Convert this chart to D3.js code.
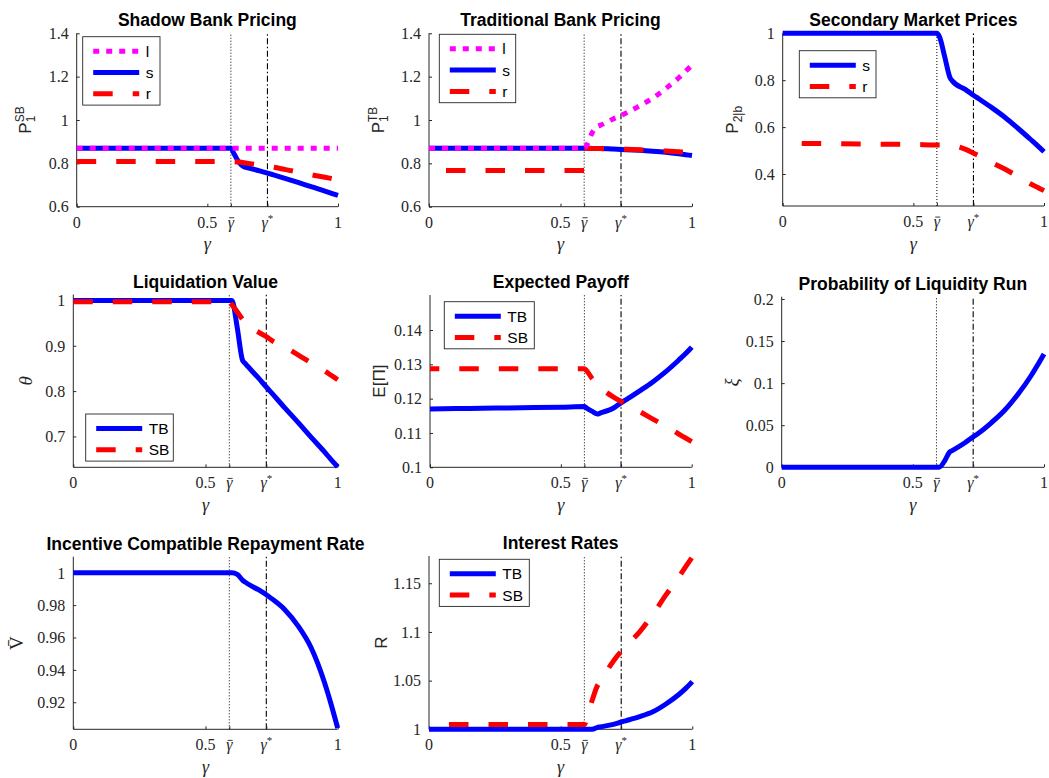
<!DOCTYPE html>
<html>
<head>
<meta charset="utf-8">
<script src="https://cdn.jsdelivr.net/npm/d3@7"></script>
<style>
  body { margin: 0; background: #fff; }
  svg { display: block; }
</style>
</head>
<body>
<svg id="fig" width="1049" height="778"></svg>
<script>
// shared gamma grid
var gamma = [0, 0.1, 0.2, 0.3, 0.4, 0.5, 0.59, 0.6, 0.62, 0.64, 0.65, 0.7, 0.73, 0.75, 0.8, 0.85, 0.9, 0.95, 0.975, 1];
var gammaBar = 0.59, gammaStar = 0.73;
var xTickVals = [0, 0.5, gammaBar, gammaStar, 1];
var xTickLabels = ['0', '0.5', 'bar', 'star', '1'];

// shadow bank pricing
var sbL = [0.87, 0.87, 0.87, 0.87, 0.87, 0.87, 0.87, 0.87, 0.87, 0.87, 0.87, 0.87, 0.87, 0.87, 0.87, 0.87, 0.87, 0.87, 0.87, 0.87];
var sbS = [0.87, 0.87, 0.87, 0.87, 0.87, 0.87, 0.87, 0.849, 0.806, 0.784, 0.781, 0.765, 0.755, 0.748, 0.73, 0.711, 0.691, 0.672, 0.662, 0.652];
var sbR = [0.808, 0.808, 0.808, 0.808, 0.808, 0.808, 0.808, 0.808, 0.806, 0.803, 0.801, 0.792, 0.787, 0.783, 0.771, 0.759, 0.747, 0.736, 0.73, 0.724];
// traditional bank pricing
var tbL = [0.87, 0.87, 0.87, 0.87, 0.87, 0.87, 0.87, 0.885, 0.94, 0.97, 0.975, 1.005, 1.021, 1.032, 1.065, 1.1, 1.145, 1.195, 1.224, 1.253];
var tbS = [0.87, 0.87, 0.87, 0.87, 0.87, 0.87, 0.87, 0.87, 0.869, 0.868, 0.868, 0.866, 0.864, 0.863, 0.86, 0.856, 0.851, 0.844, 0.84, 0.836];
var tbR = [0.767, 0.767, 0.767, 0.767, 0.767, 0.767, 0.767, 0.868, 0.868, 0.868, 0.868, 0.867, 0.866, 0.865, 0.863, 0.86, 0.857, 0.853, 0.851, 0.848];
// secondary market prices
var smS = [1, 1, 1, 1, 1, 1, 1, 0.985, 0.9, 0.812, 0.796, 0.76, 0.736, 0.721, 0.683, 0.642, 0.595, 0.546, 0.521, 0.495];
var smR = [0.531, 0.53, 0.529, 0.528, 0.527, 0.526, 0.524, 0.524, 0.523, 0.522, 0.521, 0.505, 0.489, 0.478, 0.449, 0.421, 0.39, 0.357, 0.343, 0.329];
// liquidation value
var lvTB = [1, 1, 1, 1, 1, 1, 1, 1, 0.94, 0.868, 0.861, 0.829, 0.809, 0.796, 0.763, 0.731, 0.698, 0.666, 0.649, 0.633];
var lvSB = [0.997, 0.997, 0.997, 0.997, 0.997, 0.997, 0.997, 0.99, 0.975, 0.958, 0.95, 0.93, 0.92, 0.912, 0.897, 0.88, 0.862, 0.845, 0.835, 0.825];
// expected payoff
var epTB = [0.117, 0.1171, 0.1172, 0.1173, 0.1174, 0.1175, 0.1177, 0.1172, 0.1163, 0.1155, 0.1158, 0.1172, 0.1188, 0.1197, 0.1222, 0.1248, 0.1278, 0.1312, 0.133, 0.135];
var epSB = [0.1287, 0.1287, 0.1287, 0.1287, 0.1287, 0.1287, 0.1287, 0.128, 0.1258, 0.1242, 0.1234, 0.1205, 0.1192, 0.1184, 0.1163, 0.1141, 0.112, 0.1097, 0.1086, 0.1075];
// probability of liquidity run
var xi = [0, 0, 0, 0, 0, 0, 0, 0, 0.007, 0.018, 0.0198, 0.0295, 0.0362, 0.0405, 0.0532, 0.0678, 0.0865, 0.1085, 0.1212, 0.1347];
// incentive compatible repayment rate
var vBar = [1, 1, 1, 1, 1, 1, 1, 1, 0.999, 0.9955, 0.9942, 0.9895, 0.9864, 0.984, 0.9772, 0.9672, 0.9535, 0.9322, 0.9188, 0.904];
// interest rates
var irTB = [1, 1, 1, 1, 1, 1, 1, 1, 1, 1.002, 1.0025, 1.005, 1.0075, 1.009, 1.013, 1.018, 1.026, 1.036, 1.042, 1.049];
var irSB = [1.005, 1.005, 1.005, 1.005, 1.005, 1.005, 1.005, 1.012, 1.03, 1.045, 1.049, 1.07, 1.08, 1.086, 1.1, 1.118, 1.138, 1.157, 1.167, 1.177];

var ink = '#262626';
var serif = '"Liberation Serif", "Times New Roman", serif';
var sans = '"Liberation Sans", Arial, sans-serif';
var tickSize = 16;
var looks = {
  blue:    { color: '#0000ff', dash: null, w: 5 },
  red:     { color: '#ff0000', dash: '19.5,20', w: 5 },
  magenta: { color: '#ff00ff', dash: '6,7', w: 5 }
};

var panels = [
  { title: 'Shadow Bank Pricing', box: [76.7, 33.3, 338, 206.7], ydom: [0.6, 1.4], yticks: [0.6, 0.8, 1, 1.2, 1.4],
    label: { parts: [['P'], ['SB', 'sup'], ['1', 'sub']], cx: 25 },
    series: [{ key: 's', v: sbS, look: 'blue' }, { key: 'r', v: sbR, look: 'red', off: 0 }, { key: 'l', v: sbL, look: 'magenta' }],
    legend: { x: 82.7, y: 36.7, w: 77.3, order: ['l', 's', 'r'] } },
  { title: 'Traditional Bank Pricing', box: [429, 33.3, 692, 206.7], ydom: [0.6, 1.4], yticks: [0.6, 0.8, 1, 1.2, 1.4],
    label: { parts: [['P'], ['TB', 'sup'], ['1', 'sub']], cx: 378 },
    series: [{ key: 's', v: tbS, look: 'blue' }, { key: 'r', v: tbR, look: 'red', off: 22.5 }, { key: 'l', v: tbL, look: 'magenta' }],
    legend: { x: 439.3, y: 34.3, w: 76.4, order: ['l', 's', 'r'] } },
  { title: 'Secondary Market Prices', box: [782.7, 33.3, 1044, 206], ydom: [0.2635, 1], yticks: [0.4, 0.6, 0.8, 1],
    label: { parts: [['P'], ['2|b', 'sub']], cx: 734 },
    series: [{ key: 's', v: smS, look: 'blue' }, { key: 'r', v: smR, look: 'red', off: 20.5 }],
    legend: { x: 799.3, y: 50.7, w: 76.7, order: ['s', 'r'] } },
  { title: 'Liquidation Value', box: [73.3, 294.5, 337.7, 467.3], ydom: [0.632, 1.013], yticks: [0.7, 0.8, 0.9, 1],
    label: { parts: [['θ']], cx: 25.5, font: serif, italic: true },
    series: [{ key: 'TB', v: lvTB, look: 'blue' }, { key: 'SB', v: lvSB, look: 'red', off: 0 }],
    legend: { x: 85.7, y: 414, w: 87.6, order: ['TB', 'SB'] } },
  { title: 'Expected Payoff', box: [430, 295, 691.7, 467.3], ydom: [0.1, 0.1502], yticks: [0.1, 0.11, 0.12, 0.13, 0.14],
    label: { parts: [['E[Π]']], cx: 379 },
    series: [{ key: 'TB', v: epTB, look: 'blue' }, { key: 'SB', v: epSB, look: 'red', off: 10.2 }],
    legend: { x: 444.3, y: 301.7, w: 90, order: ['TB', 'SB'] } },
  { title: 'Probability of Liquidity Run', box: [781.7, 296.7, 1044, 467.3], ydom: [0, 0.2027], yticks: [0, 0.05, 0.1, 0.15, 0.2],
    label: { parts: [['ξ']], cx: 731.5, font: serif, italic: true },
    series: [{ key: 'xi', v: xi, look: 'blue' }],
    legend: null },
  { title: 'Incentive Compatible Repayment Rate', box: [73.3, 556.7, 337.7, 729.3], ydom: [0.9033, 1.0099], yticks: [0.92, 0.94, 0.96, 0.98, 1],
    label: { parts: [['V\u0304']], cx: 16.7, font: serif },
    series: [{ key: 'v', v: vBar, look: 'blue' }],
    legend: null },
  { title: 'Interest Rates', box: [429, 556, 692.3, 729.3], ydom: [1, 1.178], yticks: [1, 1.05, 1.1, 1.15],
    label: { parts: [['R']], cx: 381.7 },
    series: [{ key: 'TB', v: irTB, look: 'blue' }, { key: 'SB', v: irSB, look: 'red', off: 19.5 }],
    legend: { x: 439.3, y: 559.3, w: 90, order: ['TB', 'SB'] } }
];

var svg = d3.select('#fig');
var fmt = d3.format('~g');

panels.forEach(function(p) {
  var g = svg.append('g');
  var x = d3.scaleLinear().domain([0, 1]).range([p.box[0], p.box[2]]);
  var y = d3.scaleLinear().domain(p.ydom).range([p.box[3], p.box[1]]);

  // reference lines
  g.append('line').attr('x1', x(gammaBar)).attr('x2', x(gammaBar)).attr('y1', y.range()[0]).attr('y2', y.range()[1])
    .attr('stroke', '#000').attr('stroke-width', 1).attr('stroke-dasharray', '1,2');
  g.append('line').attr('x1', x(gammaStar)).attr('x2', x(gammaStar)).attr('y1', y.range()[0]).attr('y2', y.range()[1])
    .attr('stroke', '#000').attr('stroke-width', 1.1).attr('stroke-dasharray', '6,2.5,1.5,2.5');

  // axes
  var yAxis = d3.axisLeft(y).tickValues(p.yticks).tickSize(-3).tickPadding(8).tickFormat(fmt);
  var ya = g.append('g').attr('transform', 'translate(' + p.box[0] + ',0)').call(yAxis);
  var xAxis = d3.axisBottom(x).tickValues(xTickVals).tickSize(-3).tickPadding(8).tickFormat('');
  var xa = g.append('g').attr('transform', 'translate(0,' + p.box[3] + ')').call(xAxis);
  [ya, xa].forEach(function(a) {
    a.attr('font-family', null).attr('font-size', null);
    a.select('.domain').attr('stroke', ink).attr('stroke-width', 1);
    a.selectAll('.tick line').attr('stroke', ink).attr('stroke-width', 1);
  });
  ya.select('.domain').attr('d', 'M0,' + p.box[3] + 'V' + p.box[1]);
  xa.select('.domain').attr('d', 'M' + p.box[0] + ',0H' + p.box[2]);
  ya.selectAll('.tick text').attr('font-family', serif).attr('font-size', tickSize).attr('fill', ink).attr('dy', '0.33em');

  // x tick labels with gamma symbols
  xTickVals.forEach(function(v, i) {
    var t = g.append('text').attr('x', x(v)).attr('y', p.box[3] + 21).attr('text-anchor', 'middle')
      .attr('font-family', serif).attr('font-size', tickSize).attr('fill', ink);
    if (xTickLabels[i] == 'bar') {
      t.attr('font-style', 'italic').text('γ');
      var tb = t.node().getBBox();
      g.append('line').attr('x1', tb.x + 1.5).attr('x2', tb.x + tb.width - 0.5)
        .attr('y1', p.box[3] + 21 - 0.62 * tickSize).attr('y2', p.box[3] + 21 - 0.62 * tickSize)
        .attr('stroke', ink).attr('stroke-width', 0.9);
    } else if (xTickLabels[i] == 'star') {
      t.append('tspan').attr('font-style', 'italic').text('γ');
      t.append('tspan').attr('font-size', 11).attr('dy', -6).text('*');
    } else {
      t.text(xTickLabels[i]);
    }
  });
  g.append('text').attr('x', (p.box[0] + p.box[2]) / 2).attr('y', p.box[3] + 43.5).attr('text-anchor', 'middle')
    .attr('font-family', serif).attr('font-style', 'italic').attr('font-size', 18).attr('fill', ink).text('γ');

  // title
  g.append('text').attr('x', (p.box[0] + p.box[2]) / 2).attr('y', p.box[1] - 7).attr('text-anchor', 'middle')
    .attr('font-family', sans).attr('font-weight', 'bold').attr('font-size', 17.5).attr('fill', '#000').text(p.title);

  // y label
  var lab = g.append('g').attr('transform', 'translate(' + p.label.cx + ',' + (p.box[1] + p.box[3]) / 2 + ') rotate(-90)');
  var txt = lab.append('text').attr('font-family', p.label.font || sans).attr('font-size', p.label.font ? 19 : 17).attr('fill', ink)
    .attr('font-style', p.label.italic ? 'italic' : null);
  var supW = 0, shift = 0;
  p.label.parts.forEach(function(pt) {
    var ts = txt.append('tspan').text(pt[0]);
    if (pt[1] == 'sup') {
      ts.attr('font-size', 12).attr('dy', -7);
      shift = -7;
      supW = ts.node().getComputedTextLength();
    } else if (pt[1] == 'sub') {
      ts.attr('font-size', 12).attr('dy', 4 - shift);
      if (supW) ts.attr('dx', -supW);
    }
  });
  var bb = txt.node().getBBox();
  txt.attr('transform', 'translate(' + (-bb.x - bb.width / 2) + ',' + (-bb.y - bb.height / 2) + ')');

  // data
  var line = d3.line().curve(d3.curveMonotoneX).x(function(d) { return x(d[0]); }).y(function(d) { return y(d[1]); });
  p.series.forEach(function(s) {
    var lk = looks[s.look];
    g.append('path').datum(d3.zip(gamma, s.v)).attr('d', line)
      .attr('fill', 'none').attr('stroke', lk.color).attr('stroke-width', lk.w)
      .attr('stroke-dasharray', lk.dash).attr('stroke-dashoffset', s.off || 0);
  });

  // legend
  if (p.legend) {
    var L = p.legend;
    var lg = g.append('g');
    lg.append('rect').attr('x', L.x).attr('y', L.y).attr('width', L.w).attr('height', L.order.length * 21.3 + 4.5)
      .attr('fill', '#fff').attr('stroke', ink).attr('stroke-width', 0.9);
    L.order.forEach(function(k, i) {
      var s = p.series.filter(function(d) { return d.key == k; })[0];
      var lk = looks[s.look];
      var ry = L.y + 14.5 + i * 21.3;
      lg.append('line').attr('x1', L.x + 10.5).attr('x2', L.x + 56.5).attr('y1', ry).attr('y2', ry)
        .attr('stroke', lk.color).attr('stroke-width', lk.w).attr('stroke-dasharray', lk.dash);
      lg.append('text').attr('x', L.x + 63).attr('y', ry + 5.5).attr('font-family', sans).attr('font-size', 15.5)
        .attr('fill', '#000').text(k);
    });
  }
});
</script>
</body>
</html>
